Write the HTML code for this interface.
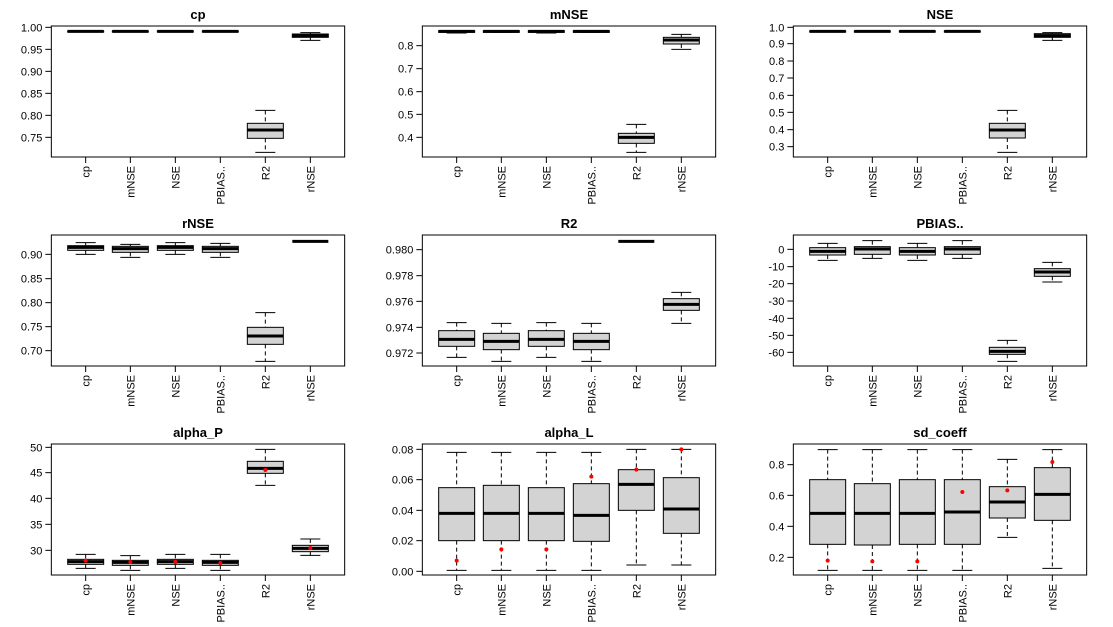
<!DOCTYPE html>
<html><head><meta charset="utf-8"><style>
html,body{margin:0;padding:0;background:#fff;}
svg{display:block;font-family:"Liberation Sans",Arial,sans-serif;}
</style></head><body>
<svg id="s" width="1113" height="627" xmlns="http://www.w3.org/2000/svg"></svg>
<script>
var P=[
{t:"cp",c:0,r:0,oy:0,ticks:[["1.00",82],["0.95",148],["0.90",214],["0.85",280],["0.80",346],["0.75",412]],
 b:[[93,93,94,96,96],[93,93,94,96,96],[93,93,94,96,96],[93,93,94,96,96],[331,370,390,415,457],[98,102,107,112,121]]},
{t:"mNSE",c:1,r:0,oy:0,ticks:[["0.8",137],["0.7",206],["0.6",275],["0.5",343],["0.4",412]],
 b:[[92,92,94,97,99],[92,92,94,97,97],[92,92,94,97,99],[92,92,94,97,97],[373,400,412,430,457],[103,112,120,132,148]]},
{t:"NSE",c:2,r:0,oy:0,ticks:[["1.0",82],["0.9",131],["0.8",183],["0.7",234],["0.6",286],["0.5",337],["0.4",389],["0.3",440]],
 b:[[93,93,94,96,96],[93,93,94,96,96],[93,93,94,96,96],[93,93,94,96,96],[331,370,390,414,457],[98,101,107,112,121]]},
{t:"rNSE",c:0,r:1,oy:0,ticks:[["0.90",136],["0.85",209],["0.80",281],["0.75",353],["0.70",425]],
 b:[[101,110,115,124,136],[106,112,119,130,145],[101,110,115,124,136],[103,112,119,130,145],[311,355,381,406,457],[96,96,97,98,98]]},
{t:"R2",c:1,r:1,oy:0,ticks:[["0.980",122],["0.978",200],["0.976",277],["0.974",355],["0.972",432]],
 b:[[341,365,391,412,445],[343,373,397,422,457],[341,365,391,412,445],[343,373,397,422,457],[96,96,97,98,98],[250,269,286,304,343]]},
{t:"PBIAS..",c:2,r:1,oy:0,ticks:[["0",121],["-10",173],["-20",224],["-30",276],["-40",328],["-50",379],["-60",430]],
 b:[[103,116,127,138,154],[95,113,120,136,148],[103,116,127,138,154],[95,113,120,136,148],[394,415,427,436,457],[160,179,189,202,219]]},
{t:"alpha_P",c:0,r:2,oy:6,ticks:[["50",82],["45",158],["40",235],["35",313],["30",391]],
 b:[[403,418,425,433,445],[407,421,427,436,451],[403,418,425,433,445],[403,421,427,436,451],[88,124,145,160,196],[357,376,385,395,406]],
 m:[422,426,426,429,150,384]},
{t:"alpha_L",c:1,r:2,oy:0,ticks:[["0.08",94],["0.06",185],["0.04",277],["0.02",368],["0.00",460]],
 b:[[103,209,286,368,457],[103,202,286,368,457],[103,209,286,368,457],[103,197,292,370,457],[94,155,199,277,441],[94,179,273,346,441]],
 m:[428,394,394,176,155,94]},
{t:"sd_coeff",c:2,r:2,oy:0,ticks:[["0.8",140],["0.6",232],["0.4",325],["0.2",418]],
 b:[[95,185,286,379,457],[95,197,286,381,457],[95,185,286,379,457],[95,185,282,379,457],[124,206,252,300,358],[95,149,229,307,451]],
 m:[428,430,430,222,217,132]}
];
var names=["cp","mNSE","NSE","PBIAS..","R2","rNSE"];
var xs=[257,391,526,661,796,931];
var h="";
P.forEach(function(p){
 var ox=p.c*371, oy=p.r*209;
 function Y(v){return oy+(v+p.oy)/3;}
 function X(v){return ox+v/3;}
 var L=X(154),R=X(1034),T=oy+26,B=oy+157;
 h+='<text x="'+((L+R)/2)+'" y="'+(oy+19)+'" font-size="13" font-weight="bold" text-anchor="middle">'+p.t+'</text>';
 p.ticks.forEach(function(t){var y=Y(t[1]);
  h+='<line x1="'+(L-6)+'" x2="'+L+'" y1="'+y+'" y2="'+y+'" stroke="#000"/>';
  h+='<text x="'+(L-9)+'" y="'+(y+4)+'" font-size="11" text-anchor="end">'+t[0]+'</text>';});
 p.b.forEach(function(b,i){
  var cx=X(xs[i]),w=18,cw=10;
  var hi=Y(b[0]),q3=Y(b[1]),md=Y(b[2]),q1=Y(b[3]),lo=Y(b[4]);
  if(q1-q3>0.8){
   h+='<line x1="'+cx+'" x2="'+cx+'" y1="'+hi+'" y2="'+q3+'" stroke="#000" stroke-dasharray="4,3"/>';
   h+='<line x1="'+cx+'" x2="'+cx+'" y1="'+q1+'" y2="'+lo+'" stroke="#000" stroke-dasharray="4,3"/>';
   h+='<line x1="'+(cx-cw)+'" x2="'+(cx+cw)+'" y1="'+hi+'" y2="'+hi+'" stroke="#000"/>';
   h+='<line x1="'+(cx-cw)+'" x2="'+(cx+cw)+'" y1="'+lo+'" y2="'+lo+'" stroke="#000"/>';
   h+='<rect x="'+(cx-w)+'" y="'+q3+'" width="'+(2*w)+'" height="'+(q1-q3)+'" fill="#d3d3d3" stroke="#000"/>';
  }
  h+='<line x1="'+(cx-w)+'" x2="'+(cx+w)+'" y1="'+md+'" y2="'+md+'" stroke="#000" stroke-width="3"/>';
  if(p.m){h+='<circle cx="'+cx+'" cy="'+Y(p.m[i])+'" r="2" fill="#f00"/>';}
  h+='<line x1="'+cx+'" x2="'+cx+'" y1="'+B+'" y2="'+(B+6)+'" stroke="#000"/>';
  h+='<text transform="translate('+(cx+4)+','+(B+9)+') rotate(-90)" font-size="11" text-anchor="end">'+names[i]+'</text>';
 });
 h+='<rect x="'+L+'" y="'+T+'" width="'+(R-L)+'" height="'+(B-T)+'" fill="none" stroke="#000"/>';
});
document.getElementById("s").innerHTML=h;
</script>
</body></html>
